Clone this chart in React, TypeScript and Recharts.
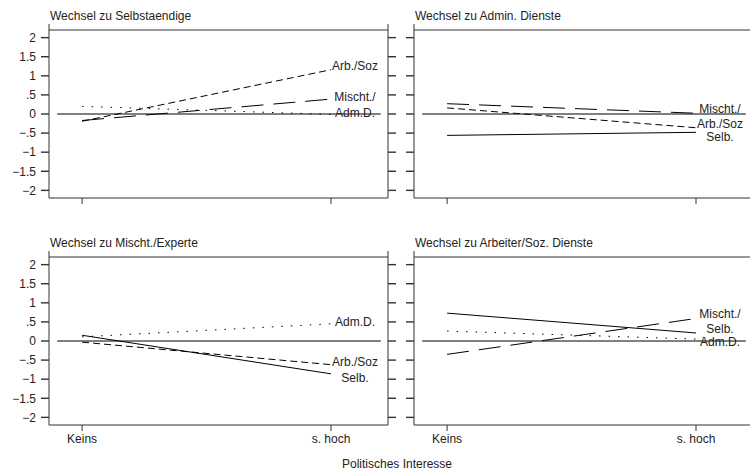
import {
  ComposedChart,
  Line,
  Scatter,
  XAxis,
  YAxis,
  ReferenceLine,
} from "recharts";

const categories = ["Keins", "s. hoch"];
const yTicks = [-2, -1.5, -1, -0.5, 0, 0.5, 1, 1.5, 2];

const seriesLabels: Record<string, string> = {
  selb: "Selb.",
  arb: "Arb./Soz",
  misch: "Mischt./",
  adm: "Adm.D.",
};

// values at Keins / s. hoch
const selbstArb = [-0.19, 1.16];
const selbstMisch = [-0.17, 0.39];
const selbstAdm = [0.2, -0.01];

const adminMisch = [0.27, 0.02];
const adminArb = [0.16, -0.36];
const adminSelb = [-0.56, -0.48];

const mischtSelb = [0.15, -0.86];
const mischtArb = [-0.03, -0.62];
const mischtAdm = [0.11, 0.45];

const arbeiterSelb = [0.73, 0.21];
const arbeiterMisch = [-0.35, 0.59];
const arbeiterAdm = [0.26, 0.05];

// where the end labels sit (y value), spread out so they don't overlap
const selbstLabelY = { arb: 1.25, misch: 0.45, adm: 0.03 };
const adminLabelY = { misch: 0.12, arb: -0.25, selb: -0.6 };
const mischtLabelY = { adm: 0.5, arb: -0.54, selb: -0.97 };
const arbeiterLabelY = { misch: 0.72, selb: 0.31, adm: -0.03 };

const dashes: Record<string, string | undefined> = {
  selb: undefined,
  arb: "7 4",
  misch: "22 10",
  adm: "1.5 8",
};

const FONT = "'Liberation Sans', Arial, Helvetica, sans-serif";
const FS = 12;
const TEXT = "#222";
const FRAME = "#333";

const fmtY = (v: number) => {
  if (v === 0) return "0";
  const s = String(Math.abs(v)).replace(/^0\./, ".");
  return (v < 0 ? "\u2212" : "") + s;
};

function buildRows(series: Record<string, number[]>) {
  return categories.map((_, i) => {
    const row: Record<string, number> = { x: i };
    for (const k of Object.keys(series)) row[k] = series[k][i];
    return row;
  });
}

function EndLabel(props: any) {
  const { cx, cy, payload } = props;
  if (cx == null || cy == null) return null;
  return (
    <text
      x={cx + 24}
      y={cy}
      textAnchor="middle"
      dominantBaseline="central"
      fontSize={FS}
      fontFamily={FONT}
      fill={TEXT}
    >
      {payload.text}
    </text>
  );
}

type PanelProps = {
  title: string;
  series: Record<string, number[]>;
  labelY: Record<string, number>;
  showXLabels: boolean;
  left: number;
  top: number;
  leftAxisWidth: number;
  showYLabels: boolean;
};

function Panel({
  title,
  series,
  labelY,
  showXLabels,
  left,
  top,
  leftAxisWidth,
  showYLabels,
}: PanelProps) {
  const rows = buildRows(series);
  const labels = Object.keys(labelY).map((k) => ({
    x: 1,
    y: labelY[k as keyof typeof labelY],
    text: seriesLabels[k],
  }));
  const width = leftAxisWidth + 339 + 12;
  const height = 228;
  const tickStyle = { fontSize: FS, fontFamily: FONT, fill: TEXT };

  return (
    <div style={{ position: "absolute", left, top, width, height }}>
      <div
        style={{
          position: "absolute",
          left: leftAxisWidth + 1,
          top: 9,
          fontSize: FS,
          lineHeight: "15px",
          fontFamily: FONT,
          color: TEXT,
          whiteSpace: "nowrap",
        }}
      >
        {title}
      </div>
      <ComposedChart
        width={width}
        height={height}
        data={rows}
        margin={{ top: 0, right: 0, bottom: 0, left: 0 }}
        style={{ position: "absolute", left: 0, top: 0 }}
      >
        <XAxis
          dataKey="x"
          type="number"
          domain={[-0.133, 1.229]}
          allowDataOverflow
          ticks={[0, 1]}
          tickFormatter={(v) => (showXLabels ? categories[v] ?? "" : "")}
          height={30}
          tickSize={6}
          tickMargin={3}
          tick={tickStyle}
          stroke={FRAME}
          axisLine={{ stroke: FRAME }}
          tickLine={{ stroke: FRAME }}
        />
        <XAxis
          xAxisId="top"
          orientation="top"
          type="number"
          domain={[-0.133, 1.229]}
          allowDataOverflow
          ticks={[0, 1]}
          tickFormatter={() => ""}
          height={30}
          tickSize={6}
          stroke={FRAME}
          axisLine={{ stroke: FRAME }}
          tickLine={{ stroke: FRAME }}
        />
        <YAxis
          type="number"
          domain={[-2.2, 2.2]}
          allowDataOverflow
          ticks={yTicks}
          interval={0}
          tickFormatter={(v) => (showYLabels ? fmtY(v) : "")}
          width={leftAxisWidth}
          tickSize={8}
          tickMargin={5}
          tick={tickStyle}
          axisLine={{ stroke: FRAME }}
          tickLine={{ stroke: FRAME, strokeWidth: 1.4 }}
        />
        <YAxis
          yAxisId="right"
          orientation="right"
          type="number"
          domain={[-2.2, 2.2]}
          allowDataOverflow
          ticks={yTicks}
          interval={0}
          tickFormatter={() => ""}
          width={12}
          tickSize={8}
          axisLine={{ stroke: FRAME }}
          tickLine={{ stroke: FRAME, strokeWidth: 1.4 }}
        />
        <ReferenceLine
          segment={[
            { x: -0.1, y: 0 },
            { x: 1.2, y: 0 },
          ]}
          stroke="#000"
          strokeWidth={1}
          ifOverflow="visible"
        />
        {Object.keys(series).map((k) => (
          <Line
            key={k}
            dataKey={k}
            type="linear"
            stroke="#000"
            strokeWidth={1}
            strokeDasharray={dashes[k]}
            dot={false}
            activeDot={false}
            isAnimationActive={false}
          />
        ))}
        <Scatter
          data={labels}
          dataKey="y"
          shape={EndLabel}
          isAnimationActive={false}
        />
      </ComposedChart>
    </div>
  );
}

export default function App() {
  return (
    <div
      style={{
        position: "absolute",
        left: 0,
        top: 0,
        width: 750,
        height: 474,
        overflow: "hidden",
        background: "#fff",
      }}
    >
      <Panel
        title="Wechsel zu Selbstaendige"
        series={{ arb: selbstArb, misch: selbstMisch, adm: selbstAdm }}
        labelY={selbstLabelY}
        showXLabels={false}
        showYLabels={true}
        left={0}
        top={0}
        leftAxisWidth={49}
      />
      <Panel
        title="Wechsel zu Admin. Dienste"
        series={{ misch: adminMisch, arb: adminArb, selb: adminSelb }}
        labelY={adminLabelY}
        showXLabels={false}
        showYLabels={false}
        left={370}
        top={0}
        leftAxisWidth={44}
      />
      <Panel
        title="Wechsel zu Mischt./Experte"
        series={{ selb: mischtSelb, arb: mischtArb, adm: mischtAdm }}
        labelY={mischtLabelY}
        showXLabels={true}
        showYLabels={true}
        left={0}
        top={227}
        leftAxisWidth={49}
      />
      <Panel
        title="Wechsel zu Arbeiter/Soz. Dienste"
        series={{ selb: arbeiterSelb, misch: arbeiterMisch, adm: arbeiterAdm }}
        labelY={arbeiterLabelY}
        showXLabels={true}
        showYLabels={false}
        left={370}
        top={227}
        leftAxisWidth={44}
      />
      <div
        style={{
          position: "absolute",
          left: 0,
          width: 794,
          top: 457,
          textAlign: "center",
          fontSize: FS,
          lineHeight: "15px",
          fontFamily: FONT,
          color: TEXT,
        }}
      >
        Politisches Interesse
      </div>
    </div>
  );
}
